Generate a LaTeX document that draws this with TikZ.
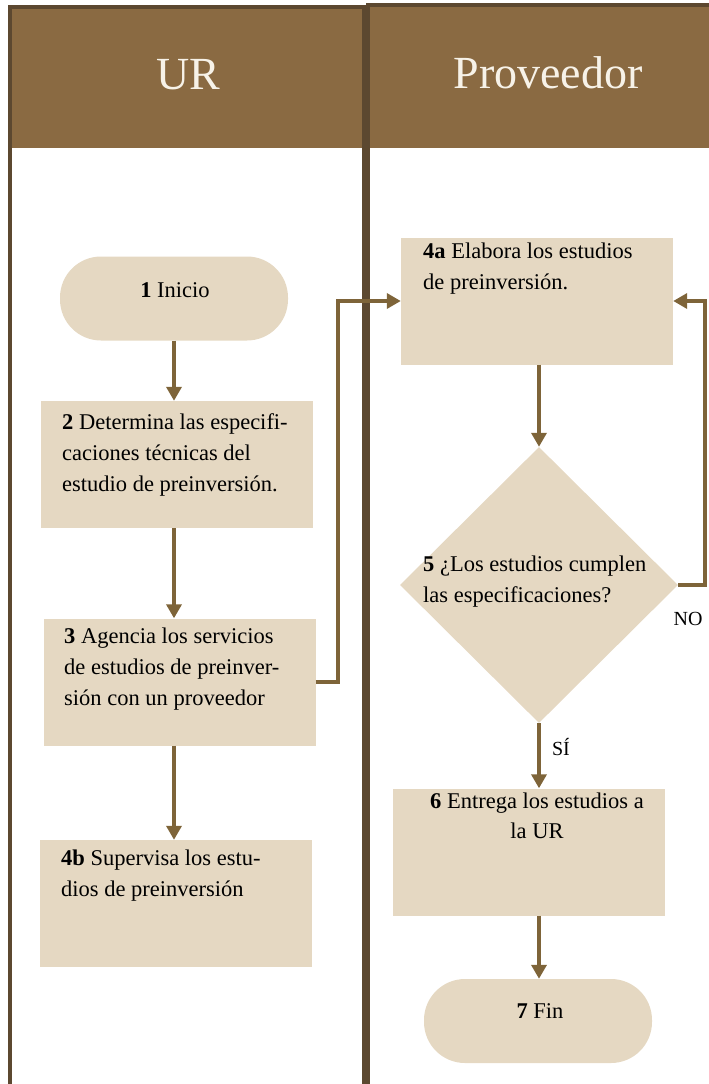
\documentclass[tikz,border=0pt]{standalone}
\usepackage{fontspec}
\setmainfont{Liberation Serif}
\usetikzlibrary{arrows.meta,shapes.geometric}
\definecolor{hdr}{HTML}{8A6A42}
\definecolor{lane}{HTML}{5C4830}
\definecolor{boxfill}{HTML}{E5D8C2}
\definecolor{arrc}{HTML}{7E6439}
\definecolor{hdrtext}{HTML}{F7F2E8}
\begin{document}
\begin{tikzpicture}[x=1pt,y=-1pt,
  lanepen/.style={draw=lane,line width=4pt},
  hdrtxt/.style={text=hdrtext,font=\fontsize{46}{50}\selectfont,inner sep=0pt},
  procbox/.style={fill=boxfill,draw=none,minimum width=272pt,minimum height=127pt,inner sep=0pt},
  termbox/.style={fill=boxfill,draw=none,rounded corners=41pt,minimum width=228pt,minimum height=84pt,inner sep=0pt},
  decbox/.style={diamond,fill=boxfill,draw=none,minimum width=278pt,minimum height=276pt,inner sep=0pt},
  txt/.style={inner sep=0pt,font=\fontsize{22.5}{31}\selectfont,align=left,anchor=north west},
  ctxt/.style={inner sep=0pt,font=\fontsize{22.5}{30}\selectfont,align=center},
  lbl/.style={inner sep=0pt,font=\fontsize{22.5}{26}\selectfont,anchor=base},
  sml/.style={inner sep=0pt,font=\fontsize{20}{24}\selectfont,anchor=base},
  arr/.style={draw=arrc,line width=4pt,-{Triangle[length=14pt,width=15pt]}}
]
\useasboundingbox (0,0) rectangle (709,1084);
% lanes
\fill[hdr] (10,7) rectangle (364,148);
\fill[hdr] (368,5) rectangle (709,148);
\draw[lanepen] (10,1090) -- (10,7) -- (364,7) -- (364,1090);
\draw[lanepen] (368,1090) -- (368,5) -- (712,5);
\node[hdrtxt] (hUR) at (188,75) {UR};
\node[hdrtxt] (hPR) at (548,73) {Proveedor};
% shapes
\node[termbox] (n1) at (174,298.5) {};
\node[procbox] (n2) at (177,464.5) {};
\node[procbox] (n3) at (179.5,682) {};
\node[procbox] (n4b) at (176,903.5) {};
\node[procbox] (n4a) at (537,301) {};
\node[decbox] (n5) at (539,585) {};
\node[procbox] (n6) at (529,852) {};
\node[termbox] (n7) at (538,1021) {};
% texts
\node[lbl] (t1) at (175,297) {\textbf{1} Inicio};
\node[txt] (t2) at (62,407.3) {\strut\textbf{2} Determina las especifi-\\caciones técnicas del\\estudio de preinversión.};
\node[txt] (t3) at (64,621.3) {\strut\textbf{3} Agencia los servicios\\de estudios de preinver-\\sión con un proveedor};
\node[txt] (t4b) at (61,843.3) {\strut\textbf{4b} Supervisa los estu-\\dios de preinversión};
\node[txt] (t4a) at (423,236.3) {\strut\textbf{4a} Elabora los estudios\\de preinversión.};
\node[txt] (t5) at (423,549.3) {\strut\textbf{5} ¿Los estudios cumplen\\las especificaciones?};
\node[ctxt,anchor=north] (t6) at (537,787) {\strut\textbf{6} Entrega los estudios a\\la UR};
\node[lbl] (t7) at (540,1018) {\textbf{7} Fin};
\node[sml] (lno) at (688,625) {NO};
\node[sml] (lsi) at (561,755) {SÍ};
% connectors
\draw[arr] (n1.south) -- (n2.north -| n1.south);
\draw[arr] (n2.south -| n1.south) -- (n3.north -| n1.south);
\draw[arr] (n3.south -| n1.south) -- (n4b.north -| n1.south);
\draw[arr] (n3.east) -- ++(22,0) |- (n4a.west);
\draw[arr] (n4a.south -| n5.north) -- (n5.north);
\draw[arr] (n5.east) -- ++(27,0) |- (n4a.east);
\draw[arr] (n5.south) -- (n6.north -| n5.south);
\draw[arr] (n6.south -| n5.south) -- (n7.north -| n5.south);
\end{tikzpicture}
\end{document}
